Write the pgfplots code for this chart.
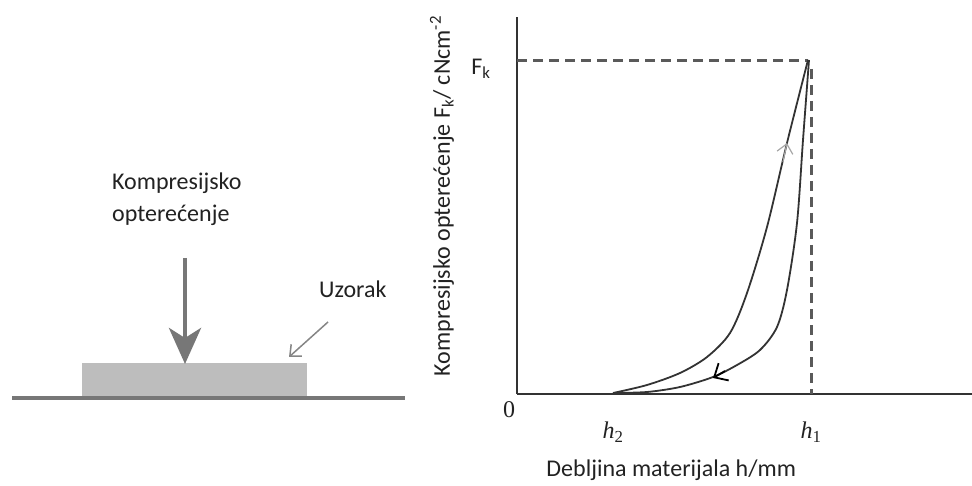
\documentclass[border=0pt]{standalone}
\usepackage{fontspec}
\setmainfont{Carlito}
\newfontfamily\tnr{Liberation Serif}
\usepackage{pgfplots}
\pgfplotsset{compat=1.18}
\usetikzlibrary{arrows.meta}
\definecolor{txt}{HTML}{222222}
\definecolor{axc}{HTML}{333333}
\definecolor{dsh}{HTML}{5A5A5A}
\definecolor{grnd}{HTML}{777777}
\definecolor{smp}{HTML}{BDBDBD}
\begin{document}
\fontsize{24}{28}\selectfont
\begin{tikzpicture}[x=1pt,y=1pt]
\path[use as bounding box] (0,0) rectangle (972,485);
% ---- left schematic ----
\fill[smp] (82,87) rectangle (307,122);
\draw[line width=3.5pt, grnd] (12,87) -- (405,87);
\draw[line width=4.5pt, grnd, -{Stealth[length=36pt,width=32pt,inset=10pt]}] (185,227) -- (185,121);
\draw[line width=1.5pt, grnd!90, -{Straight Barb[length=9pt,width=16pt]}] (328,163) -- (289,128);
\node[anchor=base west, text=txt, inner sep=0pt] at (112,295) {Kompresijsko};
\node[anchor=base west, text=txt, inner sep=0pt] at (112,263) {opterećenje};
\node[anchor=base west, text=txt, inner sep=0pt] at (319,187) {Uzorak};
% ---- chart ----
\begin{axis}[
  at={(517,91)}, anchor=south west,
  scale only axis, width=455pt, height=377pt,
  xmin=0, xmax=455, ymin=0, ymax=377,
  axis x line=bottom, axis y line=left,
  axis line style={-, line width=2pt, color=axc},
  major tick length=0pt,
  xtick={96,294}, xticklabels={{\tnr\itshape h\textsubscript{\upshape 2}},{\tnr\itshape h\textsubscript{\upshape 1}}},
  xticklabel style={anchor=center, yshift=-38pt, text=txt},
  ytick={333}, yticklabels={F\textsubscript{k}},
  yticklabel style={anchor=center, xshift=-36pt, yshift=-8pt, text=txt},
  xlabel={Debljina materijala h/mm},
  xlabel style={at={(axis description cs:0.339,-0.203)}, anchor=center, text=txt},
  ylabel={Kompresijsko opterećenje F\textsubscript{k}/ cNcm\textsuperscript{-2}},
  ylabel style={at={(axis description cs:-0.165,0.525)}, anchor=center, rotate=0, text=txt},
  clip=false,
]
\addplot[dsh, line width=3pt, dash pattern=on 10pt off 6pt] coordinates {(0,333) (291,333)};
\addplot[dsh, line width=3pt, dash pattern=on 10pt off 6pt] coordinates {(294,325) (294,0)};
% loading curve (upper)
\addplot[axc, line width=1.8pt, smooth, tension=0.5] coordinates {
 (96,1) (130,9) (163,21) (190,37) (213,61) (230,101) (250,167) (270,251) (291,334)};
% unloading curve (lower)
\addplot[axc, line width=1.8pt, smooth, tension=0.5] coordinates {
 (96,1) (130,2) (163,7) (196,17) (220,29) (243,44) (260,67) (270,104) (280,171) (286,254) (292,334)};
% direction arrows
\addplot[black!35, line width=1.2pt, -{Straight Barb[length=9pt,width=16pt]}] coordinates {(266,232) (270,251)};
\addplot[black, line width=1.8pt, -{Straight Barb[length=11pt,width=20pt]}] coordinates {(208,23) (196,16)};
\node[text=txt] at (axis cs:-8,-16) {\tnr 0};
\end{axis}
\end{tikzpicture}
\end{document}
